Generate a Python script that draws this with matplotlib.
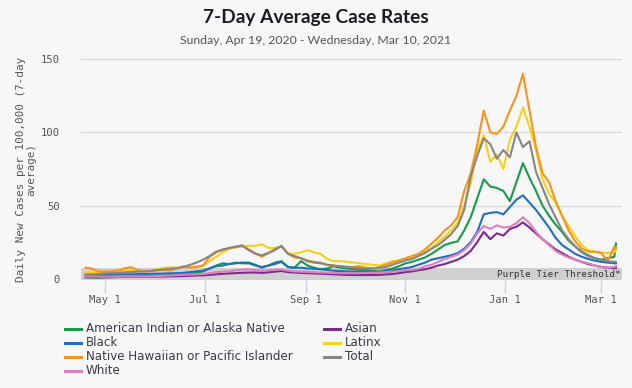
import matplotlib
matplotlib.use('Agg')
import matplotlib.pyplot as plt
import pandas as pd
from matplotlib.lines import Line2D

# ---------------- data ----------------
start_date = pd.Timestamp('2020-04-19')
day_offsets = list(range(0, 325, 4)) + [325]
dates = [start_date + pd.Timedelta(days=d) for d in day_offsets]

aian = [1.0, 0.8, 0.8, 1.0, 1.0, 1.2, 1.3, 1.5, 1.5, 1.8,
        2.0, 2.0, 2.3, 2.5, 3.0, 3.3, 3.5, 4.0, 5.0, 7.0,
        9.0, 10.5, 10.0, 11.0, 10.5, 10.5, 9.0, 8.0, 9.0, 11.0,
        12.0, 8.0, 7.5, 12.0, 9.0, 7.5, 6.5, 7.0, 8.5, 7.5,
        7.0, 6.5, 6.0, 6.0, 5.5, 5.0, 6.0, 7.0, 8.5, 10.5,
        11.5, 13.0, 14.5, 17.0, 20.0, 23.0, 24.5, 25.5, 33.0, 42.0,
        55.0, 68.0, 63.0, 62.0, 60.0, 53.0, 66.0, 79.0, 69.0, 60.0,
        50.0, 43.0, 37.0, 32.0, 26.0, 22.0, 18.5, 16.0, 14.0, 13.0,
        14.0, 15.0, 24.0]

asian = [1.0, 1.0, 1.0, 1.0, 1.1, 1.2, 1.2, 1.3, 1.3, 1.4,
         1.4, 1.5, 1.5, 1.6, 1.7, 1.8, 2.0, 2.2, 2.3, 2.6,
         3.0, 3.3, 3.6, 3.8, 4.0, 4.2, 4.2, 4.0, 4.3, 4.8,
         5.3, 4.5, 4.2, 4.0, 3.8, 3.6, 3.4, 3.2, 3.0, 2.8,
         2.6, 2.5, 2.5, 2.5, 2.5, 2.6, 2.9, 3.2, 3.8, 4.5,
         5.0, 5.8, 6.5, 7.5, 9.0, 10.0, 11.5, 13.0, 15.5, 19.0,
         25.0, 32.0, 27.0, 31.0, 29.5, 34.0, 35.5, 38.5, 35.0, 31.0,
         27.0, 23.5, 20.0, 17.5, 15.0, 13.0, 11.5, 10.0, 9.0, 8.0,
         7.5, 7.2, 7.2]

black = [2.0, 2.2, 2.3, 2.5, 2.6, 2.8, 3.0, 3.0, 3.1, 3.2,
         3.3, 3.4, 3.5, 3.7, 3.8, 4.0, 4.5, 5.0, 5.5, 7.0,
         8.5, 9.0, 10.0, 10.5, 11.0, 11.0, 9.5, 7.5, 9.0, 10.0,
         11.5, 8.0, 7.5, 7.5, 7.0, 6.8, 6.5, 6.0, 5.5, 5.2,
         5.0, 4.8, 4.6, 4.5, 4.3, 4.5, 5.2, 5.8, 6.5, 7.2,
         8.0, 9.5, 11.0, 13.0, 14.0, 15.0, 16.0, 17.5, 20.5, 25.0,
         32.0, 44.0, 45.0, 45.5, 44.0, 49.0, 54.0, 57.0, 52.0, 47.0,
         41.0, 35.0, 28.0, 23.0, 20.0, 17.0, 15.0, 13.5, 12.3, 11.5,
         11.0, 10.5, 10.5]

latinx = [4.0, 4.0, 4.2, 4.5, 4.8, 5.0, 5.2, 5.5, 5.5, 5.8,
          6.0, 6.5, 7.5, 7.8, 7.5, 7.8, 8.0, 8.5, 9.0, 12.0,
          15.0, 18.0, 20.5, 21.5, 22.0, 22.5, 22.5, 23.5, 21.0, 21.0,
          22.0, 17.5, 17.0, 18.0, 19.5, 18.0, 17.0, 13.5, 12.0, 12.0,
          11.5, 11.0, 10.5, 10.0, 9.5, 9.0, 10.5, 12.0, 12.5, 13.5,
          15.0, 16.5, 19.0, 21.0, 25.0, 28.5, 33.0, 38.0, 50.0, 65.0,
          88.0, 98.0, 80.0, 85.0, 75.0, 95.0, 104.0, 117.0, 104.0, 88.0,
          68.0, 58.0, 52.0, 43.0, 36.0, 29.0, 23.0, 19.5, 18.5, 18.0,
          17.5, 18.0, 20.0]

nhpi = [7.5, 6.8, 5.0, 5.0, 5.2, 5.5, 7.2, 7.8, 6.0, 5.0,
        5.2, 6.0, 6.2, 5.5, 7.0, 8.5, 7.5, 8.0, 9.0, 15.0,
        18.0, 19.5, 20.8, 21.5, 23.0, 20.0, 17.5, 15.0, 17.5, 20.5,
        22.0, 17.0, 14.5, 14.0, 12.5, 11.5, 11.0, 9.5, 9.0, 8.5,
        8.2, 8.0, 8.5, 7.5, 7.0, 8.0, 9.5, 11.0, 12.5, 14.0,
        15.5, 17.0, 20.0, 24.0, 28.0, 33.0, 36.5, 42.0, 60.0, 72.0,
        92.0, 115.0, 100.0, 99.0, 104.0, 115.0, 125.0, 140.0, 115.0, 90.0,
        72.0, 66.0, 53.0, 43.0, 33.0, 25.5, 20.5, 18.5, 18.4, 17.5,
        12.0, 22.0, 21.0]

total = [2.8, 3.0, 3.3, 3.6, 3.8, 4.0, 4.3, 4.6, 4.8, 5.0,
         5.3, 5.8, 6.3, 6.8, 7.2, 8.0, 9.5, 11.0, 13.0, 15.5,
         18.5, 20.0, 21.0, 22.0, 22.5, 19.5, 17.0, 16.0, 17.5, 19.5,
         22.5, 17.0, 15.5, 14.0, 12.0, 11.0, 10.5, 9.5, 9.0, 8.5,
         8.0, 7.5, 7.2, 7.0, 7.0, 7.2, 8.0, 9.5, 11.0, 12.5,
         13.5, 15.5, 17.5, 20.5, 23.0, 26.5, 30.5, 36.0, 47.0, 70.0,
         84.0, 96.0, 92.0, 82.0, 88.0, 83.0, 100.0, 90.0, 94.0, 73.0,
         62.0, 51.0, 42.0, 33.0, 27.0, 22.0, 18.0, 15.5, 14.0, 12.8,
         12.0, 11.5, 11.5]

white = [1.5, 1.5, 1.4, 1.4, 1.4, 1.4, 1.5, 1.5, 1.5, 1.6,
         1.7, 1.8, 2.0, 2.2, 2.5, 2.7, 2.8, 3.0, 3.2, 3.8,
         4.4, 4.8, 5.2, 5.8, 6.2, 6.4, 6.0, 5.5, 5.8, 6.2,
         6.4, 5.5, 5.0, 4.8, 4.6, 4.4, 4.2, 4.0, 3.9, 3.8,
         3.7, 3.7, 3.8, 3.9, 4.0, 4.2, 4.5, 4.8, 5.2, 5.8,
         6.0, 6.8, 8.5, 9.5, 11.5, 13.5, 15.0, 16.5, 19.5, 24.0,
         31.0, 36.0, 34.0, 36.5, 35.0, 35.5, 38.0, 42.0, 38.0, 32.0,
         27.0, 23.0, 19.0, 16.5, 14.5, 13.0, 11.5, 10.5, 9.0, 8.0,
         7.5, 8.0, 8.5]

series_labels = ['American Indian or Alaska Native', 'Asian', 'Black', 'Latinx',
                 'Native Hawaiian or Pacific Islander', 'Total', 'White']
series_values = [aian, asian, black, latinx, nhpi, total, white]
series_colors = ['#1a9a48', '#7b2a8e', '#1f6fbd', '#f7d117', '#f7941d', '#868686', '#df7fbf']

legend_col1 = ['American Indian or Alaska Native', 'Black',
               'Native Hawaiian or Pacific Islander', 'White']
legend_col2 = ['Asian', 'Latinx', 'Total']

purple_tier_threshold = 7
y_ticks = [0, 50, 100, 150]
x_tick_dates = ['2020-05-01', '2020-07-01', '2020-09-01', '2020-11-01', '2021-01-01', '2021-03-01']
x_tick_labels = ['May 1', 'Jul 1', 'Sep 1', 'Nov 1', 'Jan 1', 'Mar 1']

title = '7-Day Average Case Rates'
subtitle = 'Sunday, Apr 19, 2020 - Wednesday, Mar 10, 2021'
y_label = 'Daily New Cases per 100,000 (7-day\naverage)'

# ---------------- layout ----------------
BG = '#f7f7f7'
W, H = 632, 388
MONO = 'DejaVu Sans Mono'
SANS = 'DejaVu Sans'

fig = plt.figure(figsize=(W / 100, H / 100), dpi=100, facecolor=BG)
ax_left, ax_right, ax_top, ax_bottom = 81, 622, 58, 279.5
ax = fig.add_axes([ax_left / W, 1 - ax_bottom / H, (ax_right - ax_left) / W, (ax_bottom - ax_top) / H])
ax.set_facecolor(BG)

ax.set_ylim(-0.55, 150.9)
ax.set_xlim(start_date - pd.Timedelta(days=2.8), start_date + pd.Timedelta(days=328.7))

ax.axhspan(-0.55, purple_tier_threshold, color='#d0d0d0', lw=0, zorder=1)
ax.text(0.998, purple_tier_threshold / 2 - 0.3, 'Purple Tier Threshold*', transform=ax.get_yaxis_transform(),
        ha='right', va='center', fontsize=6.7, family=MONO, color='#333333', zorder=5)

for lab, vals, col in zip(series_labels, series_values, series_colors):
    ax.plot(dates, vals, color=col, lw=1.5, zorder=3, solid_joinstyle='round')

ax.set_yticks(y_ticks)
ax.set_yticklabels([str(v) for v in y_ticks])
ax.set_xticks(pd.to_datetime(x_tick_dates))
ax.set_xticklabels(x_tick_labels)
ax.yaxis.grid(True, color='#dcdcdc', lw=1)
ax.set_axisbelow(True)
for s in ax.spines.values():
    s.set_visible(False)
ax.tick_params(axis='y', length=0, pad=15, labelsize=7.6, labelcolor='#555555')
ax.tick_params(axis='x', length=9, width=1, color='#c8d4e6', pad=2.5, labelsize=7.6, labelcolor='#555555')
for lbl in ax.get_xticklabels() + ax.get_yticklabels():
    lbl.set_fontfamily(MONO)

fig.text(26 / W, 1 - 169 / H, y_label, rotation=90, ha='center', va='center', multialignment='center',
         fontsize=7.9, family=MONO, color='#555555', linespacing=1.1)

fig.text(316 / W, 1 - 17 / H, title, ha='center', va='center', fontsize=13.8, family='Lato',
         weight='bold', color='#1b1b24')
fig.text(316 / W, 1 - 40 / H, subtitle, ha='center', va='center', fontsize=8.8, family='Lato',
         color='#555555')

# legend (manual)
color_of = dict(zip(series_labels, series_colors))
rows_y = [329, 343, 357, 371]
for col_names, hx0, tx in [(legend_col1, 65, 86), (legend_col2, 324, 345)]:
    for name, ry in zip(col_names, rows_y):
        fig.add_artist(Line2D([hx0 / W, (hx0 + 16) / W], [1 - ry / H, 1 - ry / H],
                              color=color_of[name], lw=2.2, transform=fig.transFigure))
        fig.text(tx / W, 1 - ry / H, name, ha='left', va='center', fontsize=8.6, family=SANS,
                 color='#3a3a48')

fig.savefig('out.png', dpi=100, facecolor=BG)
